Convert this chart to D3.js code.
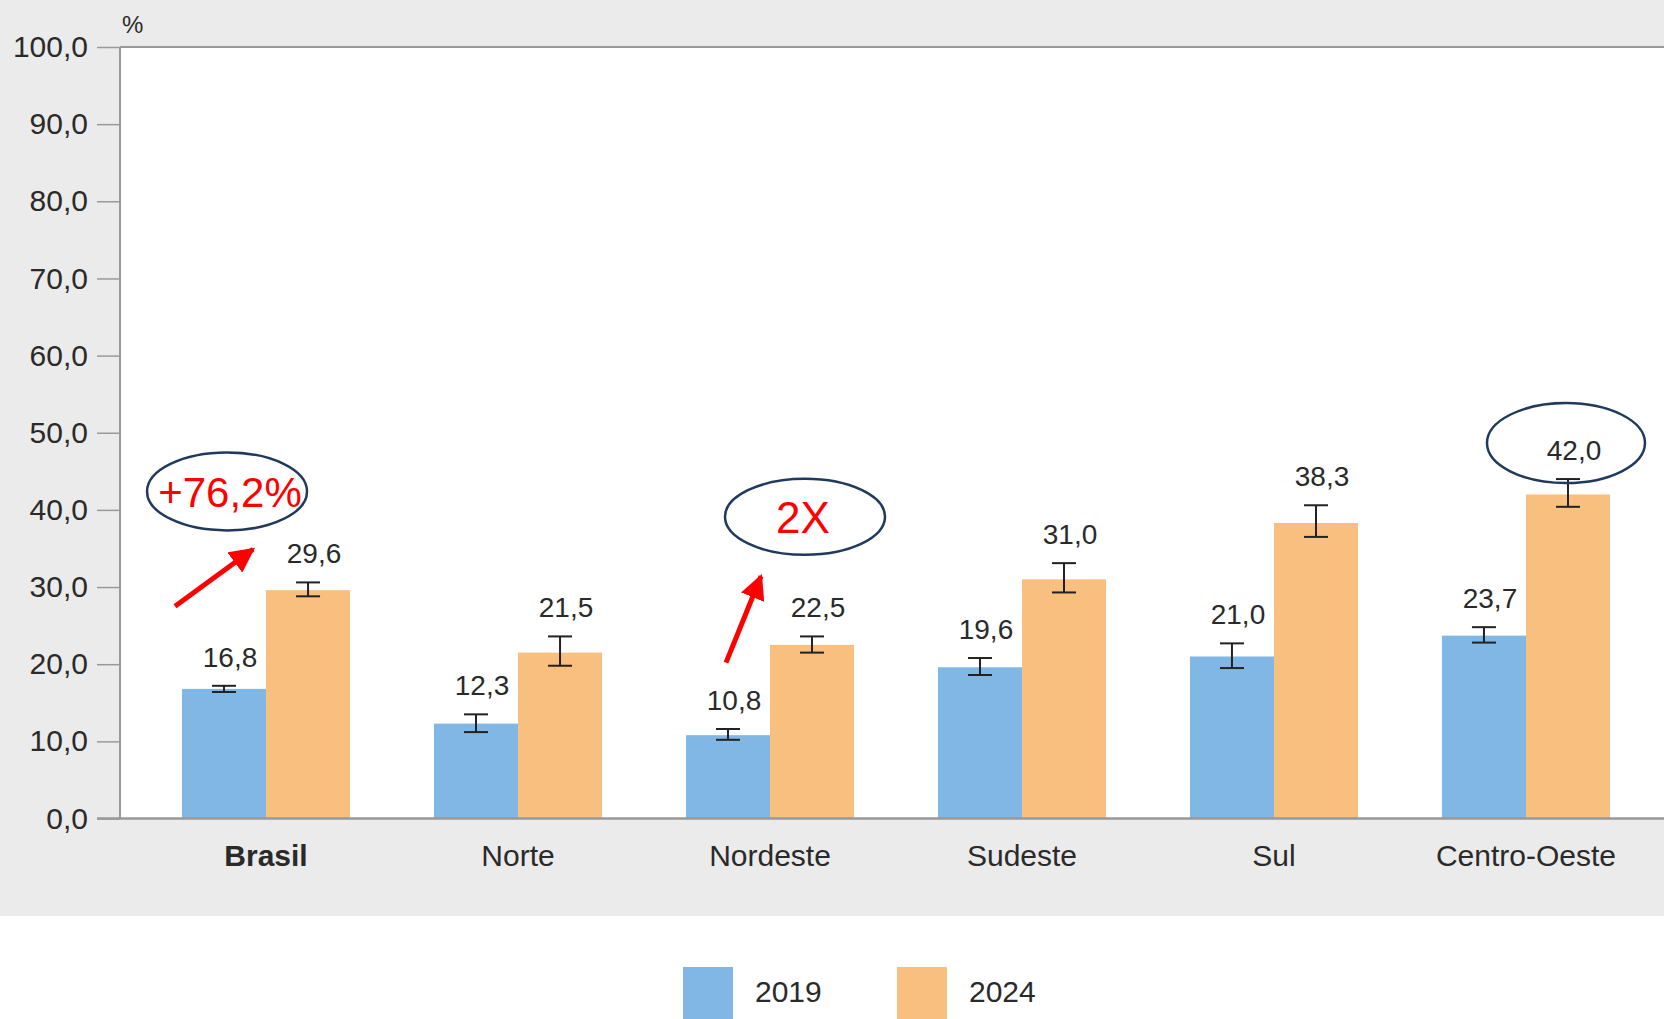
<!DOCTYPE html>
<html>
<head>
<meta charset="utf-8">
<script src="https://cdn.jsdelivr.net/npm/d3@7"></script>
<style>
  body { margin: 0; background: #fff; }
  svg { display: block; }
  text { font-family: "Liberation Sans", Arial, sans-serif; }
</style>
</head>
<body>
<svg width="1664" height="1019"></svg>
<script>
// dados
const regioes = ["Brasil", "Norte", "Nordeste", "Sudeste", "Sul", "Centro-Oeste"];
const anos = ["2019", "2024"];
const v2019 = [16.8, 12.3, 10.8, 19.6, 21.0, 23.7];
const v2024 = [29.6, 21.5, 22.5, 31.0, 38.3, 42.0];
// intervalos de confiança (barras de erro), estimados
const ic2019 = [[16.4, 17.2], [11.2, 13.5], [10.2, 11.6], [18.6, 20.8], [19.5, 22.7], [22.8, 24.8]];
const ic2024 = [[28.8, 30.6], [19.8, 23.6], [21.5, 23.6], [29.3, 33.1], [36.5, 40.6], [40.4, 44.0]];
const yTicks = [0, 10, 20, 30, 40, 50, 60, 70, 80, 90, 100];

const cores = ["#80b7e5", "#f8bf7e"];

const svg = d3.select("svg"),
    width = +svg.attr("width"),
    height = +svg.attr("height");

const mLeft = 120, mTop = 47, mBottom = 818.5;

// fundo cinza
svg.append("rect").attr("width", width).attr("height", 916).attr("fill", "#ebebeb");
svg.append("rect")
    .attr("x", mLeft).attr("y", mTop)
    .attr("width", width - mLeft).attr("height", mBottom - mTop)
    .attr("fill", "#fff");

const x = d3.scaleBand()
    .domain(regioes)
    .range([mLeft, 1672])
    .paddingInner(0.333)
    .paddingOuter(0.246);

const xs = d3.scaleBand()
    .domain(anos)
    .range([0, x.bandwidth()]);

const y = d3.scaleLinear()
    .domain([0, 100])
    .range([mBottom, mTop]);

const fmt = v => d3.format(".1f")(v).replace(".", ",");

// eixo y
const gy = svg.append("g")
    .attr("transform", "translate(" + mLeft + ",0)")
    .call(d3.axisLeft(y)
      .tickValues(yTicks)
      .tickSize(23)
      .tickPadding(9)
      .tickFormat(fmt));
gy.select(".domain").remove();
gy.selectAll(".tick line").attr("stroke", "#999").attr("stroke-width", 1.5);
gy.selectAll(".tick text")
    .attr("font-size", 30)
    .attr("fill", "#2a2a2a")
    .attr("font-family", "'Liberation Sans', Arial, sans-serif");

// linhas do quadro
svg.append("line").attr("x1", mLeft).attr("x2", mLeft).attr("y1", mTop).attr("y2", mBottom)
    .attr("stroke", "#999").attr("stroke-width", 2);
svg.append("line").attr("x1", mLeft).attr("x2", width).attr("y1", mTop).attr("y2", mTop)
    .attr("stroke", "#999").attr("stroke-width", 2);

svg.append("text")
    .attr("x", mLeft + 2).attr("y", 33)
    .attr("font-size", 24).attr("fill", "#2a2a2a")
    .text("%");

// barras
const dados = [];
regioes.forEach((r, i) => {
  dados.push({ regiao: r, ano: "2019", v: v2019[i], ic: ic2019[i] });
  dados.push({ regiao: r, ano: "2024", v: v2024[i], ic: ic2024[i] });
});

const barras = svg.append("g");
barras.selectAll("rect")
  .data(dados)
  .enter().append("rect")
    .attr("x", d => x(d.regiao) + xs(d.ano))
    .attr("y", d => y(d.v))
    .attr("width", xs.bandwidth())
    .attr("height", d => y(0) - y(d.v))
    .attr("fill", d => cores[anos.indexOf(d.ano)]);

// linha de base
svg.append("line").attr("x1", 97).attr("x2", width).attr("y1", mBottom).attr("y2", mBottom)
    .attr("stroke", "#999").attr("stroke-width", 2.5);

// barras de erro
const erro = svg.append("g").attr("stroke", "#222").attr("stroke-width", 2);
dados.forEach(d => {
  const cx = x(d.regiao) + xs(d.ano) + xs.bandwidth() / 2;
  erro.append("line").attr("x1", cx).attr("x2", cx).attr("y1", y(d.ic[0])).attr("y2", y(d.ic[1]));
  erro.append("line").attr("x1", cx - 12).attr("x2", cx + 12).attr("y1", y(d.ic[0])).attr("y2", y(d.ic[0]));
  erro.append("line").attr("x1", cx - 12).attr("x2", cx + 12).attr("y1", y(d.ic[1])).attr("y2", y(d.ic[1]));
});

// rótulos de valor
svg.append("g").selectAll("text")
  .data(dados)
  .enter().append("text")
    .attr("x", d => x(d.regiao) + xs(d.ano) + xs.bandwidth() / 2 + 6)
    .attr("y", d => y(d.ic[1]) - 19)
    .attr("text-anchor", "middle")
    .attr("font-size", 28)
    .attr("fill", "#2a2a2a")
    .text(d => fmt(d.v));

// rótulos das categorias
svg.append("g").selectAll("text")
  .data(regioes)
  .enter().append("text")
    .attr("x", d => x(d) + x.bandwidth() / 2)
    .attr("y", 866)
    .attr("text-anchor", "middle")
    .attr("font-size", 30)
    .attr("font-weight", (d, i) => i === 0 ? "bold" : "normal")
    .attr("fill", "#2a2a2a")
    .text(d => d);

// legenda
const leg = svg.append("g");
anos.forEach((a, i) => {
  const lx = 683 + i * 214;
  leg.append("rect").attr("x", lx).attr("y", 967).attr("width", 50).attr("height", 60)
      .attr("fill", cores[i]);
  leg.append("text").attr("x", lx + 72).attr("y", 1002)
      .attr("font-size", 30).attr("fill", "#2a2a2a").text(a);
});

// anotações
const notas = [
  { regiao: "Brasil", texto: "+76,2%" },
  { regiao: "Nordeste", texto: "2X" }
];
const marc = svg.append("defs").append("marker")
    .attr("id", "seta")
    .attr("viewBox", "0 0 10 10")
    .attr("refX", 9).attr("refY", 5)
    .attr("markerWidth", 5).attr("markerHeight", 5)
    .attr("orient", "auto");
marc.append("path").attr("d", "M0,0 L10,5 L0,10 z").attr("fill", "#ff0000");

const anot = svg.append("g");
// Brasil
{
  const c = x("Brasil") + x.bandwidth() / 2;
  anot.append("ellipse").attr("cx", c - 39).attr("cy", y(42.4)).attr("rx", 80).attr("ry", 39)
      .attr("fill", "none").attr("stroke", "#1f3a5c").attr("stroke-width", 2.5);
  anot.append("text").attr("x", c - 36).attr("y", y(42.4) + 16).attr("text-anchor", "middle")
      .attr("font-size", 42).attr("fill", "#ff0000").text(notas[0].texto);
  anot.append("line").attr("x1", c - 91).attr("y1", y(27.5)).attr("x2", c - 13).attr("y2", y(34.9))
      .attr("stroke", "#ff0000").attr("stroke-width", 5).attr("marker-end", "url(#seta)");
}
// Nordeste
{
  const c = x("Nordeste") + x.bandwidth() / 2;
  anot.append("ellipse").attr("cx", c + 35).attr("cy", y(39.1)).attr("rx", 80).attr("ry", 38)
      .attr("fill", "none").attr("stroke", "#1f3a5c").attr("stroke-width", 2.5);
  anot.append("text").attr("x", c + 33).attr("y", y(39.1) + 16).attr("text-anchor", "middle")
      .attr("font-size", 44).attr("fill", "#ff0000").text(notas[1].texto);
  anot.append("line").attr("x1", c - 44).attr("y1", y(20.2)).attr("x2", c - 9).attr("y2", y(31.4))
      .attr("stroke", "#ff0000").attr("stroke-width", 5).attr("marker-end", "url(#seta)");
}
// destaque Centro-Oeste 2024
{
  const d = dados[dados.length - 1];
  const lx = x(d.regiao) + xs(d.ano) + xs.bandwidth() / 2 + 6;
  const ly = y(d.ic[1]) - 19;
  anot.append("ellipse").attr("cx", lx - 8).attr("cy", ly - 17).attr("rx", 79).attr("ry", 40)
      .attr("fill", "none").attr("stroke", "#1f3a5c").attr("stroke-width", 2.5);
}
</script>
</body>
</html>
